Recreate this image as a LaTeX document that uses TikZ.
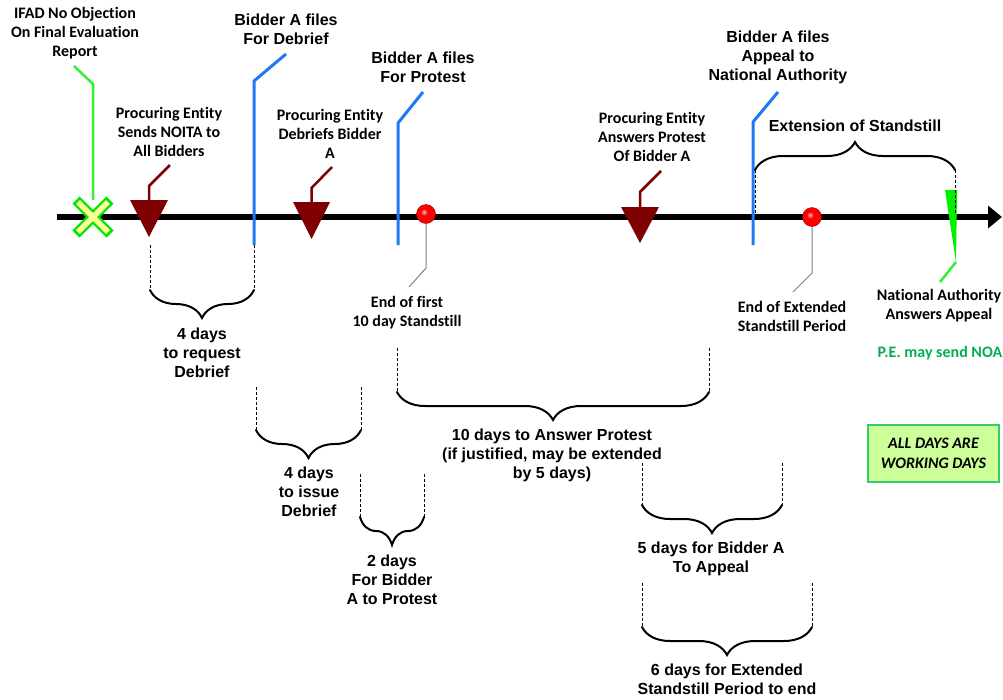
\documentclass[tikz,border=0pt]{standalone}
\usepackage{fontspec}
\setmainfont{Liberation Sans}
\newfontfamily\calibfont[Ligatures=NoCommon]{Carlito}
\usetikzlibrary{arrows.meta,decorations.pathreplacing,shadings}

\definecolor{tlred}{HTML}{7F0000}
\definecolor{fileblue}{HTML}{1F78F5}
\definecolor{leadgreen}{HTML}{33F033}
\definecolor{wedgegreen}{HTML}{00F000}
\definecolor{noagreen}{HTML}{00B050}
\definecolor{boxfill}{HTML}{CCFF99}
\definecolor{boxline}{HTML}{33CC66}
\definecolor{xyellow}{HTML}{FFFF99}
\definecolor{xgreen}{HTML}{00E600}

% glossy red pin head, highlight up and to the left
\pgfdeclareradialshading{pinhead}{\pgfpoint{-6bp}{6bp}}{%
  color(0bp)=(red!25!white); color(9bp)=(red); color(27bp)=(red);
  color(31bp)=(red!75!black); color(50bp)=(red!75!black)}

\tikzset{
  head/.style={font=\bfseries\fontsize{16pt}{19pt}\selectfont, align=center, inner sep=0pt},
  note/.style={font=\calibfont\bfseries\fontsize{16pt}{19pt}\selectfont, align=center, inner sep=0pt},
  span/.style={line width=2pt, line cap=round, decorate, decoration={brace, amplitude=28pt}},
  guide/.style={line width=0.8pt, dash pattern=on 3pt off 2pt},
  peleader/.style={draw=tlred, line width=2.5pt},
  fileleader/.style={draw=fileblue, line width=3pt},
  endleader/.style={draw=gray, line width=1pt},
  greenleader/.style={draw=leadgreen, line width=2.5pt},
  pin/.style={shading=pinhead, draw=red!60!black, line width=0.4pt},
}

\begin{document}
\begin{tikzpicture}[x=1pt, y=-1pt]
\useasboundingbox (0,0) rectangle (1003,699);

% ---- time axis ----
\coordinate (tlstart) at (57,217);
\coordinate (tlend) at (1002,217);
\draw[line width=6pt, -{Triangle[length=14pt,width=22pt]}] (tlstart) -- (tlend);

% ---- IFAD no objection (green cross) ----
\coordinate (ifadx) at (93,200);
\coordinate (ifadbend) at (93,84);
\coordinate (ifadtip) at (74,66);
\draw[greenleader] (ifadx) -- (ifadbend) -- (ifadtip);
\draw[xgreen, line width=10pt] (76,200) -- (110,234) (76,234) -- (110,200);
\draw[xyellow, line width=5.5pt] (78,202) -- (108,232) (78,232) -- (108,202);
\node[note] (ifad) at (75,33) {IFAD No Objection\\On Final Evaluation\\Report};

% ---- Procuring Entity sends NOITA ----
\fill[tlred] (130,200) -- (168,200) -- (149,237) -- cycle;
\coordinate (noitabase) at (149,201);
\coordinate (noitabend) at (149,186);
\coordinate (noitatip) at (170,165);
\draw[peleader] (noitabase) -- (noitabend) -- (noitatip);
\node[note] (noita) at (169,132) {Procuring Entity\\Sends NOITA to\\All Bidders};

% ---- Bidder A files for debrief ----
\coordinate (debbottom) at (254,245);
\coordinate (debbend) at (254,81);
\coordinate (debtip) at (286,54);
\draw[fileleader] (debbottom) -- (debbend) -- (debtip);
\node[head] (debfile) at (286,29.5) {Bidder A files\\For Debrief};

% ---- Procuring Entity debriefs Bidder A ----
\fill[tlred] (293,202) -- (330,202) -- (311.5,239) -- cycle;
\coordinate (debrbase) at (311.5,203);
\coordinate (debrbend) at (311.5,188);
\coordinate (debrtip) at (332,167);
\draw[peleader] (debrbase) -- (debrbend) -- (debrtip);
\node[note] (debr) at (330,134) {Procuring Entity\\Debriefs Bidder\\A};

% ---- Bidder A files for protest ----
\coordinate (protbottom) at (398,245);
\coordinate (protbend) at (398,123);
\coordinate (prottip) at (423,92);
\draw[fileleader] (protbottom) -- (protbend) -- (prottip);
\node[head] (protfile) at (423,67) {Bidder A files\\For Protest};

% ---- end of first standstill ----
\coordinate (firstball) at (426,214);
\coordinate (firstbend) at (426,268);
\coordinate (firsttip) at (409,287);
\draw[endleader] (firstball) -- (firstbend) -- (firsttip);
\path[pin] (firstball) circle[radius=9.5pt];
\node[note] (firstend) at (407,313) {End of first\\10 day Standstill};

% ---- Procuring Entity answers protest ----
\fill[tlred] (621,207) -- (659,207) -- (640,243) -- cycle;
\coordinate (ansbase) at (640,208);
\coordinate (ansbend) at (640,192);
\coordinate (anstip) at (661,171);
\draw[peleader] (ansbase) -- (ansbend) -- (anstip);
\node[note] (answer) at (652,137) {Procuring Entity\\Answers Protest\\Of Bidder A};

% ---- Bidder A files appeal ----
\coordinate (appbottom) at (753,245);
\coordinate (appbend) at (753,122);
\coordinate (apptip) at (778,92);
\draw[fileleader] (appbottom) -- (appbend) -- (apptip);
\node[head] (appfile) at (778,57) {Bidder A files\\Appeal to\\National Authority};

% ---- end of extended standstill ----
\coordinate (extball) at (812,217);
\coordinate (extbend) at (812,273);
\coordinate (exttip) at (793,292);
\draw[endleader] (extball) -- (extbend) -- (exttip);
\path[pin] (extball) circle[radius=9.5pt];
\node[note] (extend) at (792,316) {End of Extended\\Standstill Period};

% ---- National Authority answers appeal ----
\coordinate (natbase) at (956,262);
\coordinate (nattip) at (940,282);
\fill[wedgegreen] (945,190) -- (957,190) -- (natbase) -- cycle;
\draw[greenleader] (natbase) -- (nattip);
\node[note] (natans) at (939,305.5) {National Authority\\Answers Appeal};
\node[note, text=noagreen] (noa) at (940,353) {P.E. may send NOA};

% ---- extension of standstill ----
\draw[guide] (755,170) -- (755,215);
\draw[guide] (955,170) -- (955,213);
\draw[span] (755,170) -- (955,170);
\node[head] (extension) at (855,126) {Extension of Standstill};

% ---- periods below the axis ----
\draw[guide] (150,245) -- (150,290);
\draw[guide] (254,245) -- (254,290);
\draw[span] (254,290) -- (150,290);
\node[head] (reqdeb) at (202,353) {4 days\\to request\\Debrief};

\draw[guide] (256,387) -- (256,430);
\draw[guide] (361,387) -- (361,430);
\draw[span] (361,430) -- (256,430);
\node[head] (issdeb) at (309,492) {4 days\\to issue\\Debrief};

\draw[guide] (360,474) -- (360,517);
\draw[guide] (424,474) -- (424,517);
\draw[span] (424,517) -- (360,517);
\node[head] (protest2) at (392,580) {2 days\\For Bidder\\A to Protest};

\draw[guide] (397,348) -- (397,392);
\draw[guide] (709,348) -- (709,392);
\draw[span] (709,392) -- (397,392);
\node[head] (answer10) at (552,455) {10 days to Answer Protest\\(if justified, may be extended\\by 5 days)};

\draw[guide] (642,463) -- (642,505);
\draw[guide] (782,463) -- (782,505);
\draw[span] (782,505) -- (642,505);
\node[head] (appeal5) at (711,558.5) {5 days for Bidder A\\To Appeal};

\draw[guide] (642,583) -- (642,627);
\draw[guide] (812,583) -- (812,627);
\draw[span] (812,627) -- (642,627);
\node[head] (ext6) at (727,679) {6 days for Extended\\Standstill Period to end};

% ---- working days note ----
\node[draw=boxline, fill=boxfill, line width=1.5pt, minimum width=131pt, minimum height=57pt,
      align=center, inner sep=0pt, font=\calibfont\bfseries\itshape\fontsize{16pt}{20pt}\selectfont]
  (workdays) at (933.5,453.5) {ALL DAYS ARE\\WORKING DAYS};
\end{tikzpicture}
\end{document}
